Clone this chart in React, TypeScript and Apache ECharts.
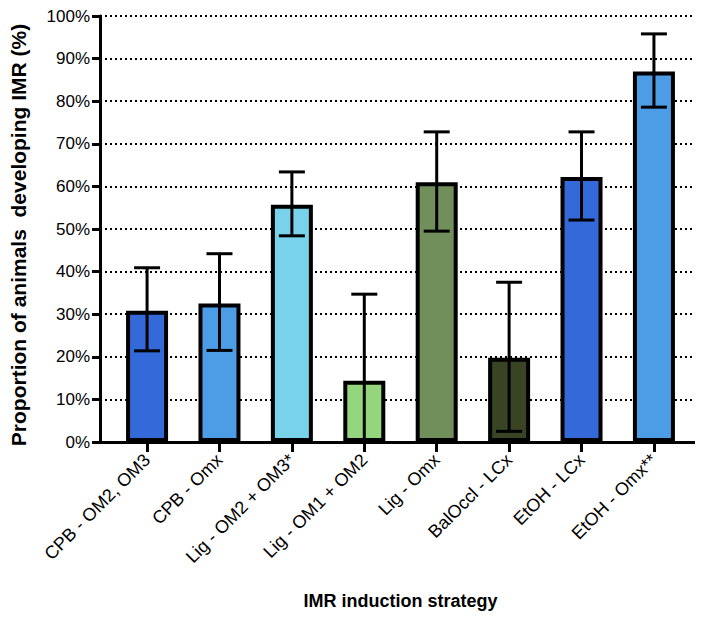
import React, { useEffect, useRef } from "react";
import * as echarts from "echarts";

const categories = [
  "CPB - OM2, OM3",
  "CPB - Omx",
  "Lig - OM2 + OM3*",
  "Lig - OM1 + OM2",
  "Lig - Omx",
  "BalOccl - LCx",
  "EtOH - LCx",
  "EtOH - Omx**",
];
const values = [30.8, 32.5, 55.7, 14.4, 61.0, 19.8, 62.2, 87.0];
const errLow = [21.4, 21.5, 48.4, 0, 49.5, 2.5, 52.1, 78.6];
const errHigh = [40.9, 44.2, 63.4, 34.7, 72.8, 37.5, 72.8, 95.8];
const colors = ["#3369D8", "#4C9DE6", "#77D2EA", "#93D67E", "#708F5B", "#384424", "#3369D8", "#4C9DE6"];
const yTicks = [0, 10, 20, 30, 40, 50, 60, 70, 80, 90, 100];

const FONT = "Liberation Sans, Arial, Helvetica, sans-serif";

export default function App() {
  const ref = useRef<HTMLDivElement>(null);
  useEffect(() => {
    if (!ref.current) return;
    const chart = echarts.init(ref.current, null, { renderer: "svg" });
    const idx = categories.map((_, i) => i);
    chart.setOption({
      animation: false,
      grid: { left: 97, right: 2, top: 16, bottom: 190, containLabel: false },
      xAxis: {
        type: "value",
        min: -0.65,
        max: 7.65,
        name: "IMR induction strategy",
        nameLocation: "middle",
        nameGap: 150,
        nameTextStyle: { fontFamily: FONT, fontSize: 18, fontWeight: "bold", color: "#000" },
        axisLine: { show: true, onZero: false, lineStyle: { color: "#000", width: 3 } },
        axisTick: { show: true, customValues: idx, length: 10, lineStyle: { color: "#000", width: 3 } },
        axisLabel: {
          customValues: idx,
          rotate: 45,
          margin: 15,
          fontFamily: FONT,
          fontSize: 18,
          color: "#000",
          formatter: (v: number) => categories[Math.round(v)] ?? "",
        },
        splitLine: { show: false },
      },
      yAxis: {
        type: "value",
        min: 0,
        max: 100,
        interval: 10,
        name: "Proportion of animals  developing IMR (%)",
        nameLocation: "middle",
        nameGap: 71,
        nameTextStyle: {
          fontFamily: FONT,
          fontSize: 21,
          fontWeight: "bold",
          color: "#000",
          padding: [0, 12, 0, 0],
        },
        axisLine: { show: true, onZero: false, lineStyle: { color: "#000", width: 3 } },
        axisTick: { show: true, length: 8, lineStyle: { color: "#000", width: 3 } },
        axisLabel: {
          margin: 10,
          fontFamily: FONT,
          fontSize: 17,
          color: "#000",
          formatter: (v: number) => (yTicks.includes(v) ? v + "%" : ""),
        },
        splitLine: { show: true, lineStyle: { color: "#000", width: 2, type: [2, 3] } },
      },
      series: [
        {
          type: "bar",
          barWidth: 42,
          z: 2,
          data: values.map((v, i) => ({
            value: [i, v],
            itemStyle: { color: colors[i], borderColor: "#000", borderWidth: 4 },
          })),
        },
        {
          type: "custom",
          z: 5,
          data: values.map((_, i) => [i, errLow[i], errHigh[i]]),
          renderItem: (params: any, api: any) => {
            const x = api.value(0);
            const lo = api.coord([x, api.value(1)]);
            const hi = api.coord([x, api.value(2)]);
            const half = 13;
            const style = { stroke: "#000", lineWidth: 3 };
            return {
              type: "group",
              children: [
                { type: "line", shape: { x1: hi[0], y1: hi[1], x2: lo[0], y2: lo[1] }, style },
                { type: "line", shape: { x1: hi[0] - half, y1: hi[1], x2: hi[0] + half, y2: hi[1] }, style },
                { type: "line", shape: { x1: lo[0] - half, y1: lo[1], x2: lo[0] + half, y2: lo[1] }, style },
              ],
            };
          },
        },
      ],
    });
    return () => chart.dispose();
  }, []);
  return <div ref={ref} style={{ width: 703, height: 632, margin: -8 }} />;
}
